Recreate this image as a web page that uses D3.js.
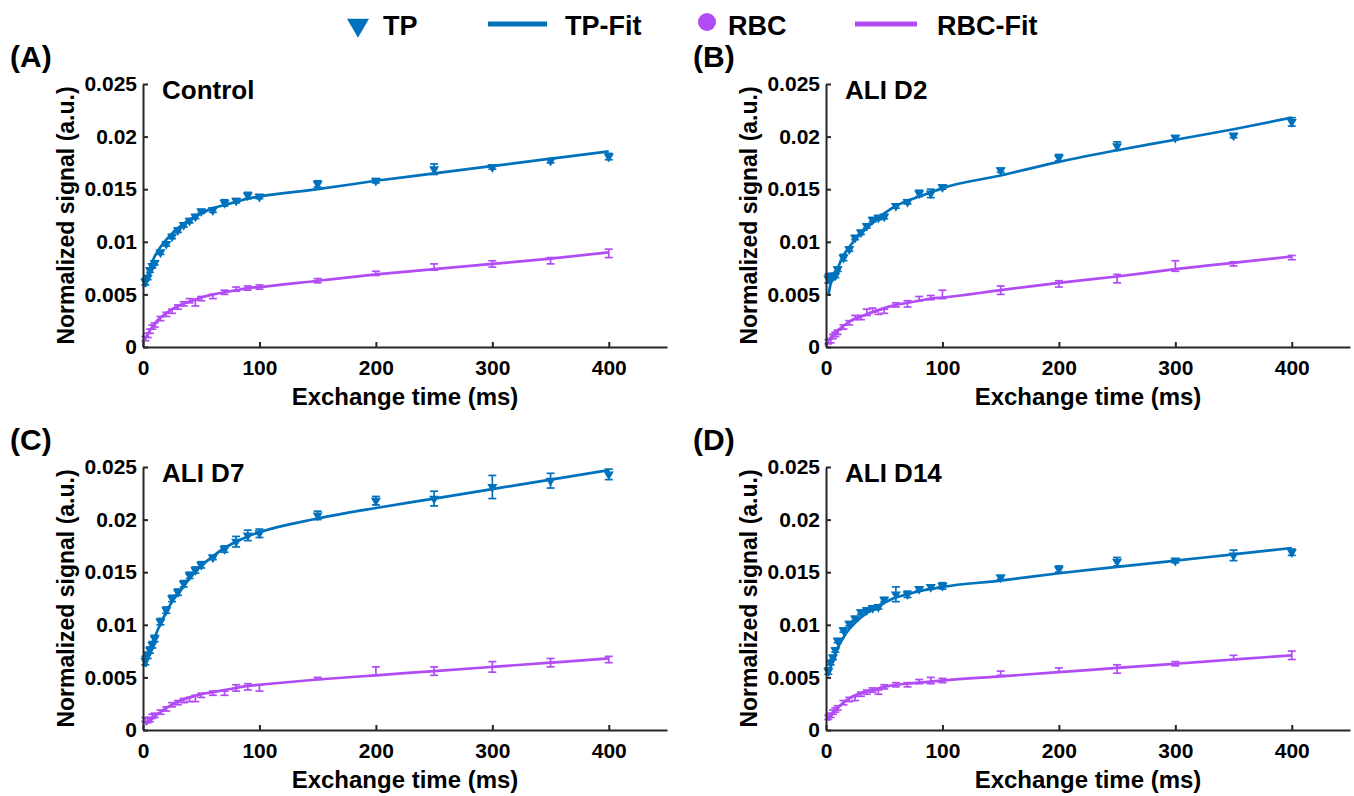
<!DOCTYPE html>
<html>
<head>
<meta charset="utf-8">
<script src="https://cdn.jsdelivr.net/npm/d3@7"></script>
<style>
body { margin: 0; background: #fff; }
svg { font-family: "Liberation Sans", Arial, sans-serif; font-weight: bold; }
</style>
</head>
<body>
<script>
// exchange times (ms)
const times = [2, 4, 6, 8, 10, 15, 20, 25, 30, 35, 40, 45, 50, 60, 70, 80, 90, 100, 150, 200, 250, 300, 350, 400];
const fitTimes = [2, 4, 6, 8, 10, 15, 20, 25, 30, 40, 50, 60, 70, 80, 90, 100, 150, 200, 250, 300, 350, 400];

const panelNames = ["Control", "ALI D2", "ALI D7", "ALI D14"];
const panelLetters = ["(A)", "(B)", "(C)", "(D)"];
const xTicks = [0, 100, 200, 300, 400];
const yTicks = [0, 0.005, 0.01, 0.015, 0.02, 0.025];
const yTickLabels = ["0", "0.005", "0.01", "0.015", "0.02", "0.025"];
const legendLabels = ["TP", "TP-Fit", "RBC", "RBC-Fit"];

// (A) Control
const tpControl = [0.0062, 0.0066, 0.0073, 0.0077, 0.0080, 0.0090, 0.0098, 0.0105, 0.0111, 0.0116, 0.0120, 0.0124, 0.0129, 0.0130, 0.0137, 0.0139, 0.0144, 0.0143, 0.0155, 0.0158, 0.0169, 0.0171, 0.0177, 0.0181];
const tpErrControl = [0.0003, 0.0002, 0.0002, 0.0002, 0.0002, 0.0002, 0.0002, 0.0002, 0.0002, 0.0002, 0.0002, 0.0002, 0.0002, 0.0002, 0.0003, 0.0002, 0.0003, 0.0002, 0.0003, 0.0002, 0.0005, 0.0002, 0.0002, 0.0003];
const tpFitControl = [0.0057, 0.0067, 0.0075, 0.0081, 0.0086, 0.0095, 0.0102, 0.0108, 0.0113, 0.0121, 0.0127, 0.0132, 0.0135, 0.0138, 0.0141, 0.0143, 0.0150, 0.0158, 0.0165, 0.0172, 0.0179, 0.0186];
const rbcControl = [0.0008, 0.0011, 0.0015, 0.0019, 0.0021, 0.0027, 0.0031, 0.0034, 0.0038, 0.0041, 0.0044, 0.0042, 0.0046, 0.0048, 0.0052, 0.0055, 0.0056, 0.0057, 0.0063, 0.0070, 0.0076, 0.0079, 0.0082, 0.0089];
const rbcErrControl = [0.0002, 0.0002, 0.0002, 0.0002, 0.0002, 0.0002, 0.0002, 0.0002, 0.0002, 0.0002, 0.0002, 0.0003, 0.0002, 0.0002, 0.0002, 0.0002, 0.0002, 0.0002, 0.0002, 0.0002, 0.0003, 0.0003, 0.0003, 0.0004];
const rbcFitControl = [0.0008, 0.0012, 0.0016, 0.0019, 0.0022, 0.0028, 0.0032, 0.0036, 0.0039, 0.0043, 0.0047, 0.0050, 0.0052, 0.0054, 0.0056, 0.0057, 0.0063, 0.0069, 0.0074, 0.0079, 0.0084, 0.0090];

// (B) ALI D2
const tpD2 = [0.0065, 0.0067, 0.0067, 0.0068, 0.0074, 0.0085, 0.0093, 0.0104, 0.0109, 0.0115, 0.0121, 0.0123, 0.0124, 0.0134, 0.0138, 0.0146, 0.0146, 0.0152, 0.0168, 0.0180, 0.0191, 0.0199, 0.0201, 0.0214];
const tpErrD2 = [0.0004, 0.0003, 0.0002, 0.0002, 0.0002, 0.0003, 0.0002, 0.0002, 0.0002, 0.0002, 0.0002, 0.0002, 0.0002, 0.0002, 0.0002, 0.0003, 0.0004, 0.0002, 0.0002, 0.0003, 0.0004, 0.0002, 0.0002, 0.0004];
const tpFitD2 = [0.0049, 0.0060, 0.0066, 0.0071, 0.0075, 0.0087, 0.0095, 0.0102, 0.0108, 0.0118, 0.0127, 0.0134, 0.0139, 0.0143, 0.0147, 0.0151, 0.0163, 0.0176, 0.0187, 0.0197, 0.0207, 0.0218];
const rbcD2 = [0.0005, 0.0006, 0.0010, 0.0012, 0.0014, 0.0019, 0.0023, 0.0028, 0.0028, 0.0033, 0.0035, 0.0033, 0.0034, 0.0040, 0.0041, 0.0046, 0.0047, 0.0050, 0.0054, 0.0060, 0.0065, 0.0077, 0.0079, 0.0085];
const rbcErrD2 = [0.0002, 0.0002, 0.0002, 0.0002, 0.0002, 0.0002, 0.0002, 0.0002, 0.0002, 0.0003, 0.0002, 0.0002, 0.0002, 0.0002, 0.0003, 0.0002, 0.0002, 0.0004, 0.0004, 0.0003, 0.0004, 0.0005, 0.0002, 0.0002];
const rbcFitD2 = [0.0006, 0.0009, 0.0012, 0.0014, 0.0016, 0.0020, 0.0024, 0.0027, 0.0029, 0.0033, 0.0037, 0.0040, 0.0042, 0.0044, 0.0046, 0.0047, 0.0054, 0.0061, 0.0067, 0.0074, 0.0080, 0.0086];

// (C) ALI D7
const tpD7 = [0.0066, 0.0071, 0.0076, 0.0081, 0.0087, 0.0103, 0.0114, 0.0125, 0.0131, 0.0139, 0.0147, 0.0152, 0.0157, 0.0164, 0.0172, 0.0179, 0.0185, 0.0187, 0.0204, 0.0218, 0.0220, 0.0231, 0.0237, 0.0243];
const tpErrD7 = [0.0004, 0.0003, 0.0003, 0.0003, 0.0003, 0.0003, 0.0003, 0.0003, 0.0003, 0.0003, 0.0003, 0.0003, 0.0003, 0.0002, 0.0003, 0.0005, 0.0005, 0.0004, 0.0004, 0.0004, 0.0007, 0.0011, 0.0007, 0.0005];
const tpFitD7 = [0.0060, 0.0068, 0.0075, 0.0082, 0.0088, 0.0101, 0.0112, 0.0122, 0.0130, 0.0144, 0.0156, 0.0165, 0.0173, 0.0179, 0.0184, 0.0188, 0.0201, 0.0211, 0.0220, 0.0229, 0.0238, 0.0247];
const rbcD7 = [0.0010, 0.0009, 0.0010, 0.0013, 0.0014, 0.0017, 0.0020, 0.0024, 0.0026, 0.0028, 0.0029, 0.0030, 0.0033, 0.0035, 0.0035, 0.0040, 0.0041, 0.0040, 0.0049, 0.0056, 0.0056, 0.0060, 0.0064, 0.0067];
const rbcErrD7 = [0.0002, 0.0002, 0.0002, 0.0002, 0.0002, 0.0002, 0.0002, 0.0002, 0.0002, 0.0002, 0.0002, 0.0003, 0.0002, 0.0002, 0.0002, 0.0003, 0.0003, 0.0003, 0.0001, 0.0004, 0.0004, 0.0005, 0.0004, 0.0003];
const rbcFitD7 = [0.0005, 0.0007, 0.0009, 0.0011, 0.0013, 0.0017, 0.0021, 0.0024, 0.0027, 0.0031, 0.0034, 0.0036, 0.0038, 0.0040, 0.0042, 0.0043, 0.0048, 0.0052, 0.0056, 0.0060, 0.0064, 0.0068];

// (D) ALI D14
const tpD14 = [0.0056, 0.0064, 0.0069, 0.0076, 0.0085, 0.0095, 0.0101, 0.0106, 0.0112, 0.0114, 0.0116, 0.0117, 0.0124, 0.0129, 0.0129, 0.0134, 0.0136, 0.0137, 0.0145, 0.0153, 0.0160, 0.0161, 0.0166, 0.0169];
const tpErrD14 = [0.0003, 0.0002, 0.0002, 0.0002, 0.0002, 0.0002, 0.0002, 0.0002, 0.0002, 0.0002, 0.0002, 0.0002, 0.0002, 0.0007, 0.0003, 0.0002, 0.0002, 0.0003, 0.0002, 0.0003, 0.0004, 0.0002, 0.0005, 0.0003];
const tpFitD14 = [0.0052, 0.0060, 0.0067, 0.0073, 0.0078, 0.0088, 0.0096, 0.0102, 0.0107, 0.0115, 0.0121, 0.0126, 0.0129, 0.0132, 0.0134, 0.0136, 0.0142, 0.0149, 0.0155, 0.0161, 0.0167, 0.0173];
const rbcD14 = [0.0012, 0.0014, 0.0017, 0.0019, 0.0021, 0.0026, 0.0029, 0.0030, 0.0034, 0.0036, 0.0038, 0.0036, 0.0041, 0.0043, 0.0043, 0.0046, 0.0047, 0.0047, 0.0054, 0.0057, 0.0058, 0.0063, 0.0069, 0.0071];
const rbcErrD14 = [0.0002, 0.0002, 0.0002, 0.0002, 0.0002, 0.0002, 0.0002, 0.0002, 0.0002, 0.0002, 0.0002, 0.0002, 0.0002, 0.0002, 0.0002, 0.0002, 0.0003, 0.0002, 0.0002, 0.0002, 0.0004, 0.0002, 0.0002, 0.0004];
const rbcFitD14 = [0.0009, 0.0013, 0.0016, 0.0019, 0.0021, 0.0026, 0.0030, 0.0033, 0.0035, 0.0038, 0.0041, 0.0043, 0.0044, 0.0045, 0.0046, 0.0047, 0.0051, 0.0055, 0.0059, 0.0063, 0.0067, 0.0071];

const tpAll = [tpControl, tpD2, tpD7, tpD14];
const tpErrAll = [tpErrControl, tpErrD2, tpErrD7, tpErrD14];
const tpFitAll = [tpFitControl, tpFitD2, tpFitD7, tpFitD14];
const rbcAll = [rbcControl, rbcD2, rbcD7, rbcD14];
const rbcErrAll = [rbcErrControl, rbcErrD2, rbcErrD7, rbcErrD14];
const rbcFitAll = [rbcFitControl, rbcFitD2, rbcFitD7, rbcFitD14];

const tpColor = "#0072BD";
const rbcColor = "#B14CF5";
const axisColor = "#262626";

const W = 1354, H = 796;
const pw = 524, ph = 263;
const origins = [[143, 84], [826, 84], [143, 467], [826, 467]];

const svg = d3.select("body").append("svg")
  .attr("width", W)
  .attr("height", H);

const x = d3.scaleLinear().domain([0, 450]).range([0, pw]);
const y = d3.scaleLinear().domain([0, 0.025]).range([ph, 0]);

// legend
const leg = svg.append("g").attr("font-size", 27);
leg.append("path")
  .attr("d", d3.symbol(d3.symbolTriangle, 210)())
  .attr("transform", "translate(358,25) rotate(180)")
  .attr("fill", tpColor);
leg.append("text").attr("x", 383).attr("y", 35).text(legendLabels[0]);
leg.append("line").attr("x1", 488).attr("x2", 547).attr("y1", 24).attr("y2", 24)
  .attr("stroke", tpColor).attr("stroke-width", 5);
leg.append("text").attr("x", 565).attr("y", 35).text(legendLabels[1]);
leg.append("circle").attr("cx", 707).attr("cy", 22).attr("r", 9).attr("fill", rbcColor);
leg.append("text").attr("x", 728).attr("y", 35).text(legendLabels[2]);
leg.append("line").attr("x1", 855).attr("x2", 917).attr("y1", 24).attr("y2", 24)
  .attr("stroke", rbcColor).attr("stroke-width", 5);
leg.append("text").attr("x", 937).attr("y", 35).text(legendLabels[3]);

const fitLine = d3.line()
  .x(d => x(d[0]))
  .y(d => y(d[1]))
  .curve(d3.curveMonotoneX);

function drawSeries(g, vals, errs, fit, color, shape) {
  const pts = times.map((t, i) => ({t: t, v: vals[i], e: errs[i]}));
  // fit line
  g.append("path")
    .datum(fitTimes.map((t, i) => [t, fit[i]]))
    .attr("d", fitLine)
    .attr("fill", "none")
    .attr("stroke", color)
    .attr("stroke-width", 2.7);
  // error bars
  const eb = g.append("g").attr("stroke", color).attr("stroke-width", 1.7);
  eb.selectAll("line.v").data(pts).enter().append("line")
    .attr("x1", d => x(d.t)).attr("x2", d => x(d.t))
    .attr("y1", d => y(d.v - d.e)).attr("y2", d => y(d.v + d.e));
  eb.selectAll("line.lo").data(pts).enter().append("line")
    .attr("x1", d => x(d.t) - 4).attr("x2", d => x(d.t) + 4)
    .attr("y1", d => y(d.v - d.e)).attr("y2", d => y(d.v - d.e));
  eb.selectAll("line.hi").data(pts).enter().append("line")
    .attr("x1", d => x(d.t) - 4).attr("x2", d => x(d.t) + 4)
    .attr("y1", d => y(d.v + d.e)).attr("y2", d => y(d.v + d.e));
  // markers
  const sym = shape === "tri" ? d3.symbol(d3.symbolTriangle, 44) : d3.symbol(d3.symbolCircle, 36);
  g.selectAll("path.m").data(pts).enter().append("path")
    .attr("class", "m")
    .attr("d", sym)
    .attr("transform", d => "translate(" + x(d.t) + "," + y(d.v) + ")" + (shape === "tri" ? " rotate(180)" : ""))
    .attr("fill", color);
}

origins.forEach((o, k) => {
  const g = svg.append("g").attr("transform", "translate(" + o[0] + "," + o[1] + ")");

  // panel letter and title
  svg.append("text")
    .attr("x", o[0] - 133).attr("y", o[1] - 17)
    .attr("font-size", 30)
    .text(panelLetters[k]);
  g.append("text")
    .attr("x", 19).attr("y", 15)
    .attr("font-size", 26)
    .text(panelNames[k]);

  drawSeries(g, tpAll[k], tpErrAll[k], tpFitAll[k], tpColor, "tri");
  drawSeries(g, rbcAll[k], rbcErrAll[k], rbcFitAll[k], rbcColor, "circ");

  // axes
  const xAxis = g.append("g")
    .attr("transform", "translate(0," + ph + ")")
    .call(d3.axisBottom(x).tickValues(xTicks).tickFormat(d3.format("d"))
      .tickSizeInner(-5).tickSizeOuter(0).tickPadding(13));
  const yAxis = g.append("g")
    .call(d3.axisLeft(y).tickValues(yTicks).tickFormat((d, i) => yTickLabels[i])
      .tickSizeInner(-5).tickSizeOuter(0).tickPadding(6));
  [xAxis, yAxis].forEach(a => {
    a.attr("font-family", null).attr("font-size", 21);
    a.select(".domain").attr("stroke", axisColor).attr("stroke-width", 2);
    a.selectAll(".tick line").attr("stroke", axisColor).attr("stroke-width", 2);
    a.selectAll(".tick text").attr("fill", "#000");
  });

  // axis titles
  g.append("text")
    .attr("x", x(225)).attr("y", ph + 58)
    .attr("text-anchor", "middle")
    .attr("font-size", 24)
    .text("Exchange time (ms)");
  g.append("text")
    .attr("transform", "translate(-69," + (ph / 2) + ") rotate(-90)")
    .attr("text-anchor", "middle")
    .attr("font-size", 23)
    .text("Normalized signal (a.u.)");
});
</script>
</body>
</html>
